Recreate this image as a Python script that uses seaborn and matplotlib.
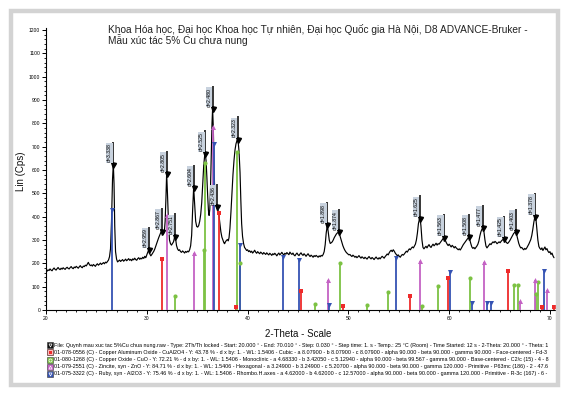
import matplotlib
matplotlib.use("Agg")
import matplotlib.pyplot as plt
import numpy as np
import pandas as pd
import seaborn as sns
from matplotlib.ticker import MultipleLocator
from matplotlib.patches import Rectangle
from matplotlib.lines import Line2D

# ---------------- data ----------------
two_theta = [
    20.0, 20.1, 20.2, 20.3, 20.4, 20.5, 20.6, 20.7, 20.8, 20.9,
    21.0, 21.1, 21.2, 21.3, 21.4, 21.5, 21.6, 21.7, 21.8, 21.9,
    22.0, 22.1, 22.2, 22.3, 22.4, 22.5, 22.6, 22.7, 22.8, 22.9,
    23.0, 23.1, 23.2, 23.3, 23.4, 23.5, 23.6, 23.7, 23.8, 23.9,
    24.0, 24.1, 24.2, 24.3, 24.4, 24.5, 24.6, 24.7, 24.8, 24.9,
    25.0, 25.1, 25.2, 25.3, 25.4, 25.5, 25.6, 25.7, 25.8, 25.9,
    26.0, 26.1, 26.2, 26.3, 26.4, 26.5, 26.6, 26.68, 26.75, 26.82,
    26.9, 27.0, 27.1, 27.2, 27.3, 27.4, 27.5, 27.6, 27.7, 27.8,
    27.9, 28.0, 28.1, 28.2, 28.3, 28.4, 28.5, 28.6, 28.7, 28.8,
    28.9, 29.0, 29.1, 29.2, 29.3, 29.4, 29.5, 29.6, 29.7, 29.8,
    29.9, 30.0, 30.1, 30.2, 30.3, 30.4, 30.5, 30.6, 30.7, 30.8,
    30.9, 31.0, 31.1, 31.2, 31.3, 31.4, 31.47, 31.55, 31.65, 31.75,
    31.82, 31.9, 31.97, 32.05, 32.15, 32.25, 32.35, 32.45, 32.55, 32.65,
    32.72, 32.8, 32.88, 32.95, 33.05, 33.15, 33.25, 33.35, 33.45, 33.55,
    33.65, 33.75, 33.85, 33.95, 34.05, 34.15, 34.25, 34.35, 34.45, 34.55,
    34.65, 34.75, 34.85, 34.95, 35.05, 35.15, 35.25, 35.35, 35.45, 35.55,
    35.65, 35.75, 35.8, 35.88, 35.96, 36.05, 36.12, 36.18, 36.25, 36.32,
    36.4, 36.47, 36.53, 36.6, 36.68, 36.76, 36.84, 36.93, 37.0, 37.08,
    37.16, 37.25, 37.35, 37.45, 37.55, 37.65, 37.72, 37.8, 37.9, 38.0,
    38.08, 38.16, 38.25, 38.35, 38.45, 38.55, 38.65, 38.75, 38.85, 38.95,
    39.0, 39.07, 39.15, 39.25, 39.33, 39.41, 39.5, 39.6, 39.7, 39.8,
    39.9, 40.0, 40.1, 40.2, 40.3, 40.4, 40.5, 40.6, 40.7, 40.8,
    40.9, 41.0, 41.1, 41.2, 41.3, 41.4, 41.5, 41.6, 41.7, 41.8,
    41.9, 42.0, 42.1, 42.2, 42.3, 42.4, 42.5, 42.6, 42.7, 42.8,
    42.9, 43.0, 43.1, 43.2, 43.3, 43.4, 43.5, 43.6, 43.7, 43.8,
    43.9, 44.0, 44.1, 44.2, 44.3, 44.4, 44.5, 44.6, 44.7, 44.8,
    44.9, 45.0, 45.1, 45.2, 45.3, 45.4, 45.5, 45.6, 45.7, 45.8,
    45.9, 46.0, 46.1, 46.2, 46.3, 46.4, 46.5, 46.6, 46.7, 46.8,
    46.9, 47.0, 47.1, 47.2, 47.3, 47.4, 47.5, 47.6, 47.7, 47.8,
    47.91, 48.0, 48.1, 48.2, 48.3, 48.4, 48.5, 48.6, 48.7, 48.8,
    48.9, 49.04, 49.15, 49.25, 49.35, 49.45, 49.55, 49.65, 49.75, 49.85,
    49.95, 50.05, 50.15, 50.25, 50.35, 50.45, 50.55, 50.65, 50.75, 50.85,
    50.95, 51.05, 51.15, 51.25, 51.35, 51.45, 51.55, 51.65, 51.75, 51.85,
    51.95, 52.05, 52.15, 52.25, 52.35, 52.45, 52.55, 52.65, 52.75, 52.85,
    52.95, 53.05, 53.15, 53.25, 53.35, 53.45, 53.55, 53.65, 53.75, 53.85,
    53.95, 54.05, 54.15, 54.25, 54.35, 54.45, 54.55, 54.65, 54.75, 54.85,
    54.95, 55.05, 55.15, 55.25, 55.35, 55.45, 55.55, 55.65, 55.75, 55.85,
    55.95, 56.05, 56.15, 56.25, 56.35, 56.45, 56.55, 56.65, 56.75, 56.85,
    56.95, 57.05, 57.12, 57.2, 57.3, 57.4, 57.5, 57.6, 57.7, 57.8,
    57.9, 58.0, 58.1, 58.2, 58.3, 58.4, 58.5, 58.6, 58.7, 58.8,
    58.9, 59.0, 59.1, 59.2, 59.3, 59.4, 59.51, 59.6, 59.7, 59.8,
    59.9, 60.0, 60.1, 60.2, 60.3, 60.4, 60.5, 60.6, 60.7, 60.8,
    60.9, 61.0, 61.1, 61.2, 61.3, 61.4, 61.5, 61.6, 61.7, 61.8,
    61.9, 61.96, 62.05, 62.15, 62.25, 62.35, 62.45, 62.55, 62.65, 62.75,
    62.85, 62.95, 63.05, 63.15, 63.25, 63.35, 63.45, 63.55, 63.65, 63.75,
    63.85, 63.95, 64.05, 64.15, 64.25, 64.35, 64.45, 64.55, 64.65, 64.75,
    64.85, 64.95, 65.05, 65.15, 65.25, 65.35, 65.47, 65.6, 65.7, 65.8,
    65.9, 66.0, 66.1, 66.2, 66.3, 66.4, 66.5, 66.6, 66.7, 66.8,
    66.9, 67.0, 67.1, 67.2, 67.3, 67.4, 67.5, 67.6, 67.7, 67.8,
    67.9, 68.0, 68.1, 68.2, 68.3, 68.4, 68.47, 68.54, 68.62, 68.7,
    68.8, 68.9, 69.0, 69.1, 69.2, 69.3, 69.4, 69.5, 69.6, 69.7,
    69.8, 69.9, 70.0, 70.1, 70.2, 70.3, 70.4,
]
intensity = [
    170, 166, 172, 169, 176, 171, 168, 175, 180, 174,
    171, 177, 182, 176, 173, 179, 175, 181, 177, 174,
    180, 183, 178, 176, 182, 186, 180, 177, 184, 181,
    187, 183, 179, 185, 190, 184, 181, 188, 186, 192,
    189, 197, 204, 195, 190, 193, 188, 195, 191, 187,
    194, 198, 192, 196, 201, 195, 199, 203, 198, 205,
    202, 208, 214, 228, 262, 380, 560, 625, 540, 360,
    250, 218, 206, 210, 214, 208, 212, 216, 209, 213,
    218, 211, 215, 220, 213, 217, 211, 219, 215, 222,
    216, 213, 220, 224, 217, 222, 219, 226, 221, 230,
    224, 236, 248, 257, 240, 232, 238, 245, 252, 262,
    275, 288, 300, 312, 322, 333, 336, 330, 325, 340,
    380, 480, 585, 500, 380, 300, 284, 278, 285, 292,
    305, 316, 298, 276, 262, 255, 258, 250, 247, 253,
    249, 244, 251, 247, 252, 249, 258, 275, 320, 430,
    525, 450, 380, 358, 355, 362, 380, 410, 460, 540,
    620, 665, 670, 640, 570, 480, 425, 405, 430, 520,
    680, 800, 862, 780, 600, 480, 448, 440, 435, 425,
    405, 370, 335, 312, 300, 288, 284, 292, 298, 302,
    296, 310, 350, 420, 500, 580, 640, 685, 712, 726,
    729, 718, 680, 590, 470, 370, 315, 285, 268, 262,
    255, 258, 250, 254, 247, 252, 244, 249, 256, 248,
    243, 250, 245, 241, 248, 244, 239, 246, 242, 238,
    245, 240, 236, 243, 239, 234, 241, 237, 243, 238,
    232, 239, 244, 236, 241, 247, 240, 236, 243, 239,
    246, 241, 237, 248, 242, 238, 244, 236, 232, 239,
    244, 237, 233, 240, 245, 238, 234, 241, 236, 230,
    236, 241, 234, 229, 235, 231, 226, 233, 229, 234,
    230, 226, 232, 228, 234, 231, 238, 250, 280, 330,
    363, 335, 300, 285, 288, 292, 300, 310, 318, 325,
    330, 333, 320, 305, 290, 276, 265, 256, 249, 244,
    240, 236, 238, 233, 229, 235, 231, 226, 230, 224,
    228, 233, 227, 222, 228, 224, 220, 226, 222, 218,
    224, 229, 223, 219, 225, 221, 216, 222, 227, 221,
    218, 224, 219, 225, 230, 226, 222, 229, 234, 240,
    236, 245, 252, 256, 250, 258, 252, 244, 238, 233,
    236, 230, 226, 233, 238, 235, 240, 246, 252, 248,
    256, 262, 258, 265, 270, 266, 274, 282, 300, 330,
    370, 390, 391, 360, 300, 268, 262, 268, 273, 266,
    274, 280, 272, 268, 276, 282, 275, 280, 286, 278,
    284, 282, 288, 294, 300, 306, 310, 300, 290, 282,
    276, 282, 276, 270, 277, 272, 266, 272, 266, 262,
    258, 262, 257, 264, 272, 280, 286, 292, 298, 304,
    309, 311, 300, 284, 270, 264, 268, 262, 268, 274,
    282, 296, 318, 335, 346, 350, 335, 300, 274, 266,
    272, 278, 284, 280, 287, 292, 288, 294, 290, 284,
    288, 292, 288, 294, 299, 302, 304, 294, 288, 285,
    290, 296, 304, 312, 320, 328, 332, 333, 322, 304,
    286, 274, 266, 268, 262, 258, 264, 260, 266, 274,
    282, 292, 302, 320, 346, 376, 392, 400, 385, 345,
    300, 272, 264, 259, 266, 255, 263, 270, 258, 263,
    252, 246, 250, 238, 244, 232, 224,
]

peak_theta = [26.68, 30.2, 31.47, 31.97, 32.8, 34.65, 35.8, 36.53, 36.93, 39.0,
              47.91, 49.04, 57.1, 59.51, 61.96, 63.35, 65.47, 66.6, 68.54]
peak_value = [621, 257, 336, 581, 314, 521, 669, 860, 440, 729,
              363, 333, 391, 310, 311, 350, 304, 333, 400]
peak_label = ["d=3.338", "d=2.959", "d=2.867", "d=2.805", "d=2.751", "d=2.604",
              "d=2.525", "d=2.480", "d=2.436", "d=2.323", "d=1.898", "d=1.874",
              "d=1.625", "d=1.563", "d=1.508", "d=1.477", "d=1.425", "d=1.403",
              "d=1.378"]

cual2o4_theta = [31.51, 37.13, 38.85, 45.27, 49.5, 56.14, 59.88, 65.83, 69.24, 70.43]
cual2o4_height = [217, 414, 14, 81, 17, 61, 139, 167, 14, 14]

cuo_theta = [32.8, 35.7, 35.78, 38.98, 39.25, 46.66, 49.17, 51.88, 53.96, 57.3,
             58.89, 62.1, 66.46, 66.86, 68.6, 68.78]
cuo_height = [60, 257, 628, 678, 203, 24, 200, 20, 76, 17,
              104, 136, 106, 106, 69, 120]

zno_theta = [31.97, 34.68, 36.58, 47.94, 57.1, 63.42, 66.99, 68.54, 69.73]
zno_height = [407, 243, 786, 129, 211, 207, 39, 129, 86]

al2o3_theta = [26.55, 36.63, 39.25, 43.48, 45.1, 48.08, 54.72, 60.05, 62.26, 63.75, 64.11, 69.43]
al2o3_height = [429, 710, 280, 229, 214, 21, 221, 164, 29, 29, 29, 167]

x_ticks = [20, 30, 40, 50, 60, 70]
y_ticks = [0, 100, 200, 300, 400, 500, 600, 700, 800, 900, 1000, 1100, 1200]

title_lines = [
    "Khoa Hóa học, Đại học Khoa học Tự nhiên, Đại học Quốc gia Hà Nội, D8 ADVANCE-Bruker -",
    "Mẫu xúc tác 5% Cu chưa nung",
]
x_label = "2-Theta - Scale"
y_label = "Lin (Cps)"

legend_lines = [
    "File: Quynh mau xuc tac 5%Cu chua nung.raw - Type: 2Th/Th locked - Start: 20.000 ° - End: 70.010 ° - Step: 0.030 ° - Step time: 1. s - Temp.: 25 °C (Room) - Time Started: 12 s - 2-Theta: 20.000 ° - Theta: 1",
    "01-078-0556 (C) - Copper Aluminum Oxide - CuAl2O4 - Y: 43.78 % - d x by: 1. - WL: 1.5406 - Cubic - a 8.07900 - b 8.07900 - c 8.07900 - alpha 90.000 - beta 90.000 - gamma 90.000 - Face-centered - Fd-3",
    "01-080-1268 (C) - Copper Oxide - CuO - Y: 72.21 % - d x by: 1. - WL: 1.5406 - Monoclinic - a 4.68330 - b 3.42050 - c 5.12940 - alpha 90.000 - beta 99.567 - gamma 90.000 - Base-centered - C2/c (15) - 4 - 8",
    "01-079-2551 (C) - Zincite, syn - ZnO - Y: 84.71 % - d x by: 1. - WL: 1.5406 - Hexagonal - a 3.24900 - b 3.24900 - c 5.20700 - alpha 90.000 - beta 90.000 - gamma 120.000 - Primitive - P63mc (186) - 2 - 47.6",
    "01-075-3322 (C) - Ruby, syn - Al2O3 - Y: 75.46 % - d x by: 1. - WL: 1.5406 - Rhombo.H.axes - a 4.62000 - b 4.62000 - c 12.57000 - alpha 90.000 - beta 90.000 - gamma 120.000 - Primitive - R-3c (167) - 6 -",
]

# ---------------- styling ----------------
sns.set_theme(style="ticks")
plt.rcParams["font.family"] = ["Liberation Sans", "DejaVu Sans"]

RED, GREEN, PURPLE, BLUE = "#ee2b2b", "#7cc243", "#c462c4", "#3553b3"

W, H = 565, 393
fig = plt.figure(figsize=(W / 100, H / 100), dpi=100)
fig.patch.set_facecolor("white")


def fx(x):
    return x / W


def fy(y):
    return 1 - y / H


ax = fig.add_axes([fx(46), fy(310), (555 - 46) / W, (310 - 28) / H])
ax.set_facecolor("white")
ax.set_xlim(20, 70.5)
ax.set_ylim(0, 1208)

df = pd.DataFrame({"two_theta": two_theta, "lin": intensity})
sns.lineplot(data=df, x="two_theta", y="lin", color="black", lw=0.85,
             estimator=None, ax=ax, zorder=2)

phases = [
    (cual2o4_theta, cual2o4_height, RED, "s", 11),
    (cuo_theta, cuo_height, GREEN, "o", 9),
    (zno_theta, zno_height, PURPLE, "^", 13),
    (al2o3_theta, al2o3_height, BLUE, "v", 13),
]
for th, hh, col, mk, sz in phases:
    ax.vlines(th, 0, hh, colors=col, lw=1.3, zorder=3)
    sns.scatterplot(x=th, y=hh, color=col, marker=mk, s=sz, linewidth=0,
                    ax=ax, zorder=4, legend=False)

# peak markers and d-labels
ax.plot(peak_theta, peak_value, "v", color="black", ms=3.6, zorder=6)
for t, v, lab in zip(peak_theta, peak_value, peak_label):
    ax.vlines(t, v, v + 100, colors="black", lw=1.1, zorder=6)
    ax.annotate(lab, xy=(t, v + 52), xytext=(-2.7, 0), textcoords="offset points",
                rotation=90, ha="center", va="center", fontsize=3.7, color="black",
                zorder=7,
                bbox=dict(boxstyle="square,pad=0.12", fc="#c8d2de", ec="none"))

ax.set_xticks(x_ticks)
ax.set_yticks(y_ticks)
ax.xaxis.set_minor_locator(MultipleLocator(1))
ax.yaxis.set_minor_locator(MultipleLocator(20))
ax.tick_params(which="major", direction="out", length=2.6, width=0.7,
               labelsize=3.6, pad=1.5, colors="black")
ax.tick_params(which="minor", direction="out", length=1.6, width=0.6, colors="black")
ax.set_xlabel("")
ax.set_ylabel("")
sns.despine(ax=ax)
for s in ["left", "bottom"]:
    ax.spines[s].set_color("black")
    ax.spines[s].set_linewidth(0.8)

# axis labels
fig.text(fx(298), fy(334), x_label, ha="center", va="center", fontsize=7, color="#111111")
fig.text(fx(21), fy(171), y_label, ha="center", va="center", rotation=90,
         fontsize=7, color="#111111")

# title
t1 = fig.text(fx(108), fy(33), title_lines[0], ha="left", va="baseline",
              fontsize=7, color="#222222")
t2 = fig.text(fx(108), fy(44.5), title_lines[1], ha="left", va="baseline",
              fontsize=7, color="#222222")

# legend block
leg_y = [345, 352.3, 359.6, 366.8, 374]
icon_cols = ["#111111", RED, GREEN, PURPLE, BLUE]
icon_marks = ["v", "s", "o", "^", "v"]
leg_texts = []
for yy, line, col, mk in zip(leg_y, legend_lines, icon_cols, icon_marks):
    fig.patches.append(Rectangle((fx(46.8), fy(yy + 3)), 6 / W, 6 / H,
                                 transform=fig.transFigure, fc=col, ec="#333333",
                                 lw=0.4))
    fig.lines.append(Line2D([fx(49.8)], [fy(yy)], transform=fig.transFigure,
                            marker=mk, ms=2.2, mfc="none", mec="white", mew=0.5,
                            ls="none"))
    leg_texts.append(fig.text(fx(54), fy(yy), line, ha="left", va="center",
                              fontsize=3.6, color="black"))

# frame
fig.patches.append(Rectangle((fx(11), fy(384.5)), (558 - 11) / W, (384.5 - 10.5) / H,
                             transform=fig.transFigure, fill=False,
                             ec="#d3d3d3", lw=3.2))

# fit text widths to the reference layout
fig.canvas.draw()
r = fig.canvas.get_renderer()
w = t1.get_window_extent(r).width
fs = 7 * (527 - 108) / w
t1.set_fontsize(fs)
t2.set_fontsize(fs)
w = leg_texts[0].get_window_extent(r).width
lfs = 3.6 * (550 - 54) / w
for t in leg_texts:
    t.set_fontsize(lfs)

fig.savefig("out.png", dpi=100, facecolor="white")
